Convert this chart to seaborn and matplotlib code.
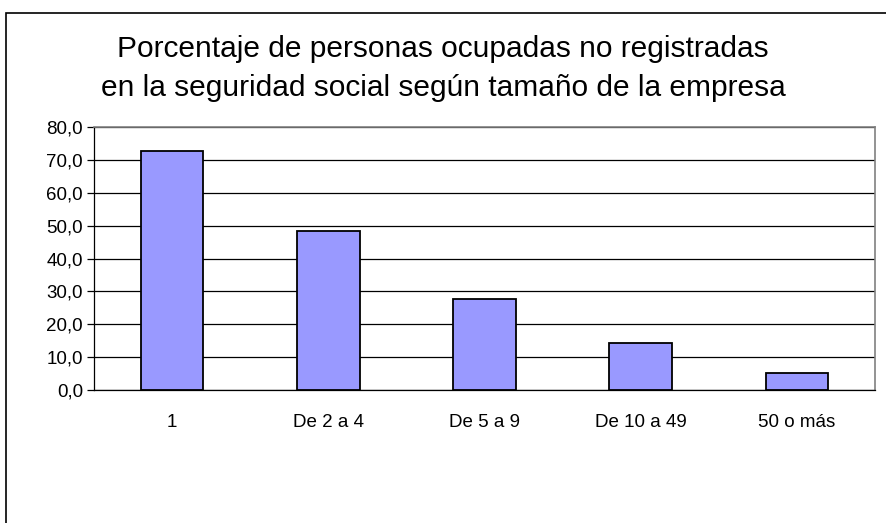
import matplotlib
matplotlib.use("Agg")
import matplotlib.pyplot as plt
import seaborn as sns
import pandas as pd
import numpy as np
from matplotlib.patches import Rectangle

# ---- data ----
categories = ["1", "De 2 a 4", "De 5 a 9", "De 10 a 49", "50 o más"]
values = [72.7, 48.4, 27.7, 14.2, 5.3]
y_ticks = [0, 10, 20, 30, 40, 50, 60, 70, 80]

df = pd.DataFrame({"tamano": categories, "pct": values})

sns.set_style("white")
plt.rcParams["font.family"] = ["Liberation Sans", "DejaVu Sans"]
plt.rcParams["text.color"] = "black"
plt.rcParams["xtick.color"] = "black"
plt.rcParams["ytick.color"] = "black"

fig = plt.figure(figsize=(8.87, 5.23), dpi=100)
ax = fig.add_axes([94 / 887, (523 - 390) / 523, 781 / 887, 263 / 523])

sns.barplot(data=df, x="tamano", y="pct", color="#9999FF", width=0.4,
            edgecolor="black", linewidth=1.3, saturation=1, ax=ax, zorder=3)

ax.set_xlim(-0.5, len(categories) - 0.5)
ax.set_ylim(0, 80)
ax.set_yticks(y_ticks)
ax.set_yticklabels([f"{v:.1f}".replace(".", ",") for v in y_ticks], fontsize=13.5)
ax.yaxis.grid(True, color="black", linewidth=0.9, zorder=0)
ax.set_axisbelow(True)

# x ticks: labels centered, tick marks on category boundaries
ax.set_xticks(range(len(categories)))
ax.set_xticklabels(categories, fontsize=13.5)
ax.tick_params(axis="x", which="major", length=0, pad=17)
ax.set_xticks(np.arange(-0.5, len(categories)), minor=True)
ax.tick_params(axis="x", which="minor", length=5, width=0.9, color="black", direction="out")
ax.tick_params(axis="y", length=5, width=0.9, color="black", direction="out", left=True, pad=3)

ax.set_xlabel("")
ax.set_ylabel("")
for side in ["top", "right"]:
    ax.spines[side].set_color("#808080")
    ax.spines[side].set_linewidth(1.2)
for side in ["left", "bottom"]:
    ax.spines[side].set_color("black")
    ax.spines[side].set_linewidth(0.9)

fig.text(443 / 887, 1 - 49 / 523, "Porcentaje de personas ocupadas no registradas",
         ha="center", va="center", fontsize=21.5, color="black")
fig.text(443 / 887, 1 - 88 / 523, "en la seguridad social según tamaño de la empresa",
         ha="center", va="center", fontsize=21.5, color="black")

# outer chart border
fig.patches.append(Rectangle((6 / 887, -0.1), 1.2, 1 - 13 / 523 + 0.1,
                             transform=fig.transFigure, fill=False,
                             edgecolor="black", linewidth=1.2))

fig.savefig("out.png", dpi=100)
